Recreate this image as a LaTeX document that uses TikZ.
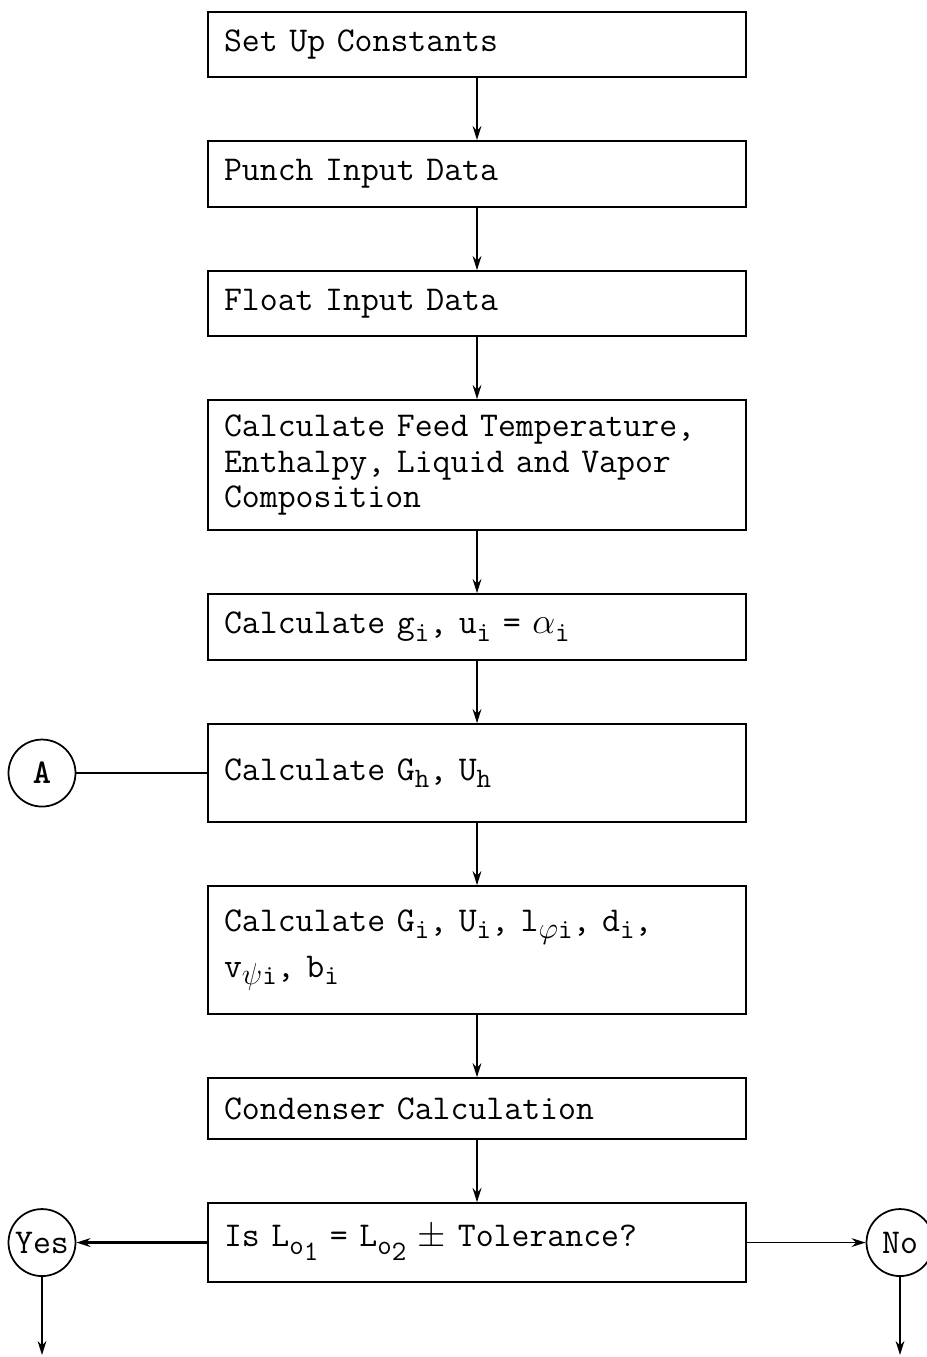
\documentclass[tikz,border=0pt]{standalone}
\usepackage{fontspec}
\usetikzlibrary{positioning,arrows.meta}
\newcommand{\low}[1]{\raisebox{-0.5ex}{\fontsize{16}{16}\selectfont #1}}

\begin{document}
\begin{tikzpicture}[font=\ttfamily\fontsize{19.8}{20}\selectfont,
        node distance=1.245cm,
        box/.style={draw, line width=\linethick, inner xsep=0.32cm, text width=10.12cm, align=left},
        conn/.style={circle, draw, line width=\linethick, minimum size=1.34cm, inner sep=0pt},
        >={Stealth[length=8pt,width=5pt]}]

            \def\linethick{1pt}

            \useasboundingbox (0,0) rectangle (18.52,-27.14);

            \coordinate (leftcol) at (0.84, 0);
            \coordinate (rightcol) at (18.0, 0);

            % boxes
            \node[box, minimum height=1.3cm] (b1) at (9.54, -0.89) {Set Up Constants};
            \node[box, minimum height=1.32cm, below=of b1] (b2) {Punch Input Data};
            \node[box, minimum height=1.3cm, below=of b2] (b3) {Float Input Data};
            \node[box, minimum height=2.6cm, below=of b3] (b4) {Calculate Feed Temperature,\\ Enthalpy, Liquid and Vapor\\ Composition};
            \node[box, minimum height=1.32cm, below=of b4] (b5) {Calculate g\low{i}, u\low{i} = $\alpha$\low{i}};
            \node[box, minimum height=1.96cm, below=of b5] (b6) {Calculate G\low{h}, U\low{h}};
            \node[box, minimum height=2.56cm, below=of b6] (b7) {Calculate G\low{i}, U\low{i}, l\low{$\varphi$i}, d\low{i},\\[6pt] v\low{$\psi$i}, b\low{i}};
            \node[box, minimum height=1.22cm, below=of b7] (b8) {Condenser Calculation};
            \node[box, minimum height=1.58cm, below=of b8] (b9) {Is L\low{o\low{1}} = L\low{o\low{2}} $\pm$ Tolerance?};

            % arrows down the column
            \draw[->, line width=\linethick] (b1) -- (b2);
            \draw[->, line width=\linethick] (b2) -- (b3);
            \draw[->, line width=\linethick] (b3) -- (b4);
            \draw[->, line width=\linethick] (b4) -- (b5);
            \draw[->, line width=\linethick] (b5) -- (b6);
            \draw[->, line width=\linethick] (b6) -- (b7);
            \draw[->, line width=\linethick] (b7) -- (b8);
            \draw[->, line width=1.4pt] (b8) -- (b9);

            % connectors
            \node[conn] (A) at (leftcol |- b6) {\bfseries A};
            \node[conn] (yes) at (leftcol |- b9) {Yes};
            \node[conn] (no) at (rightcol |- b9) {No};

            \draw[line width=\linethick] (A) -- (b6);
            \draw[->, line width=1.4pt] (b9) -- (yes);
            \draw[->, line width=\linethick] (b9) -- (no);

            \coordinate (yesend) at (0.84, -27.1);
            \coordinate (noend) at (18.0, -27.1);
            \draw[->, line width=\linethick] (yes) -- (yesend);
            \draw[->, line width=\linethick] (no) -- (noend);

        \end{tikzpicture}
\end{document}
